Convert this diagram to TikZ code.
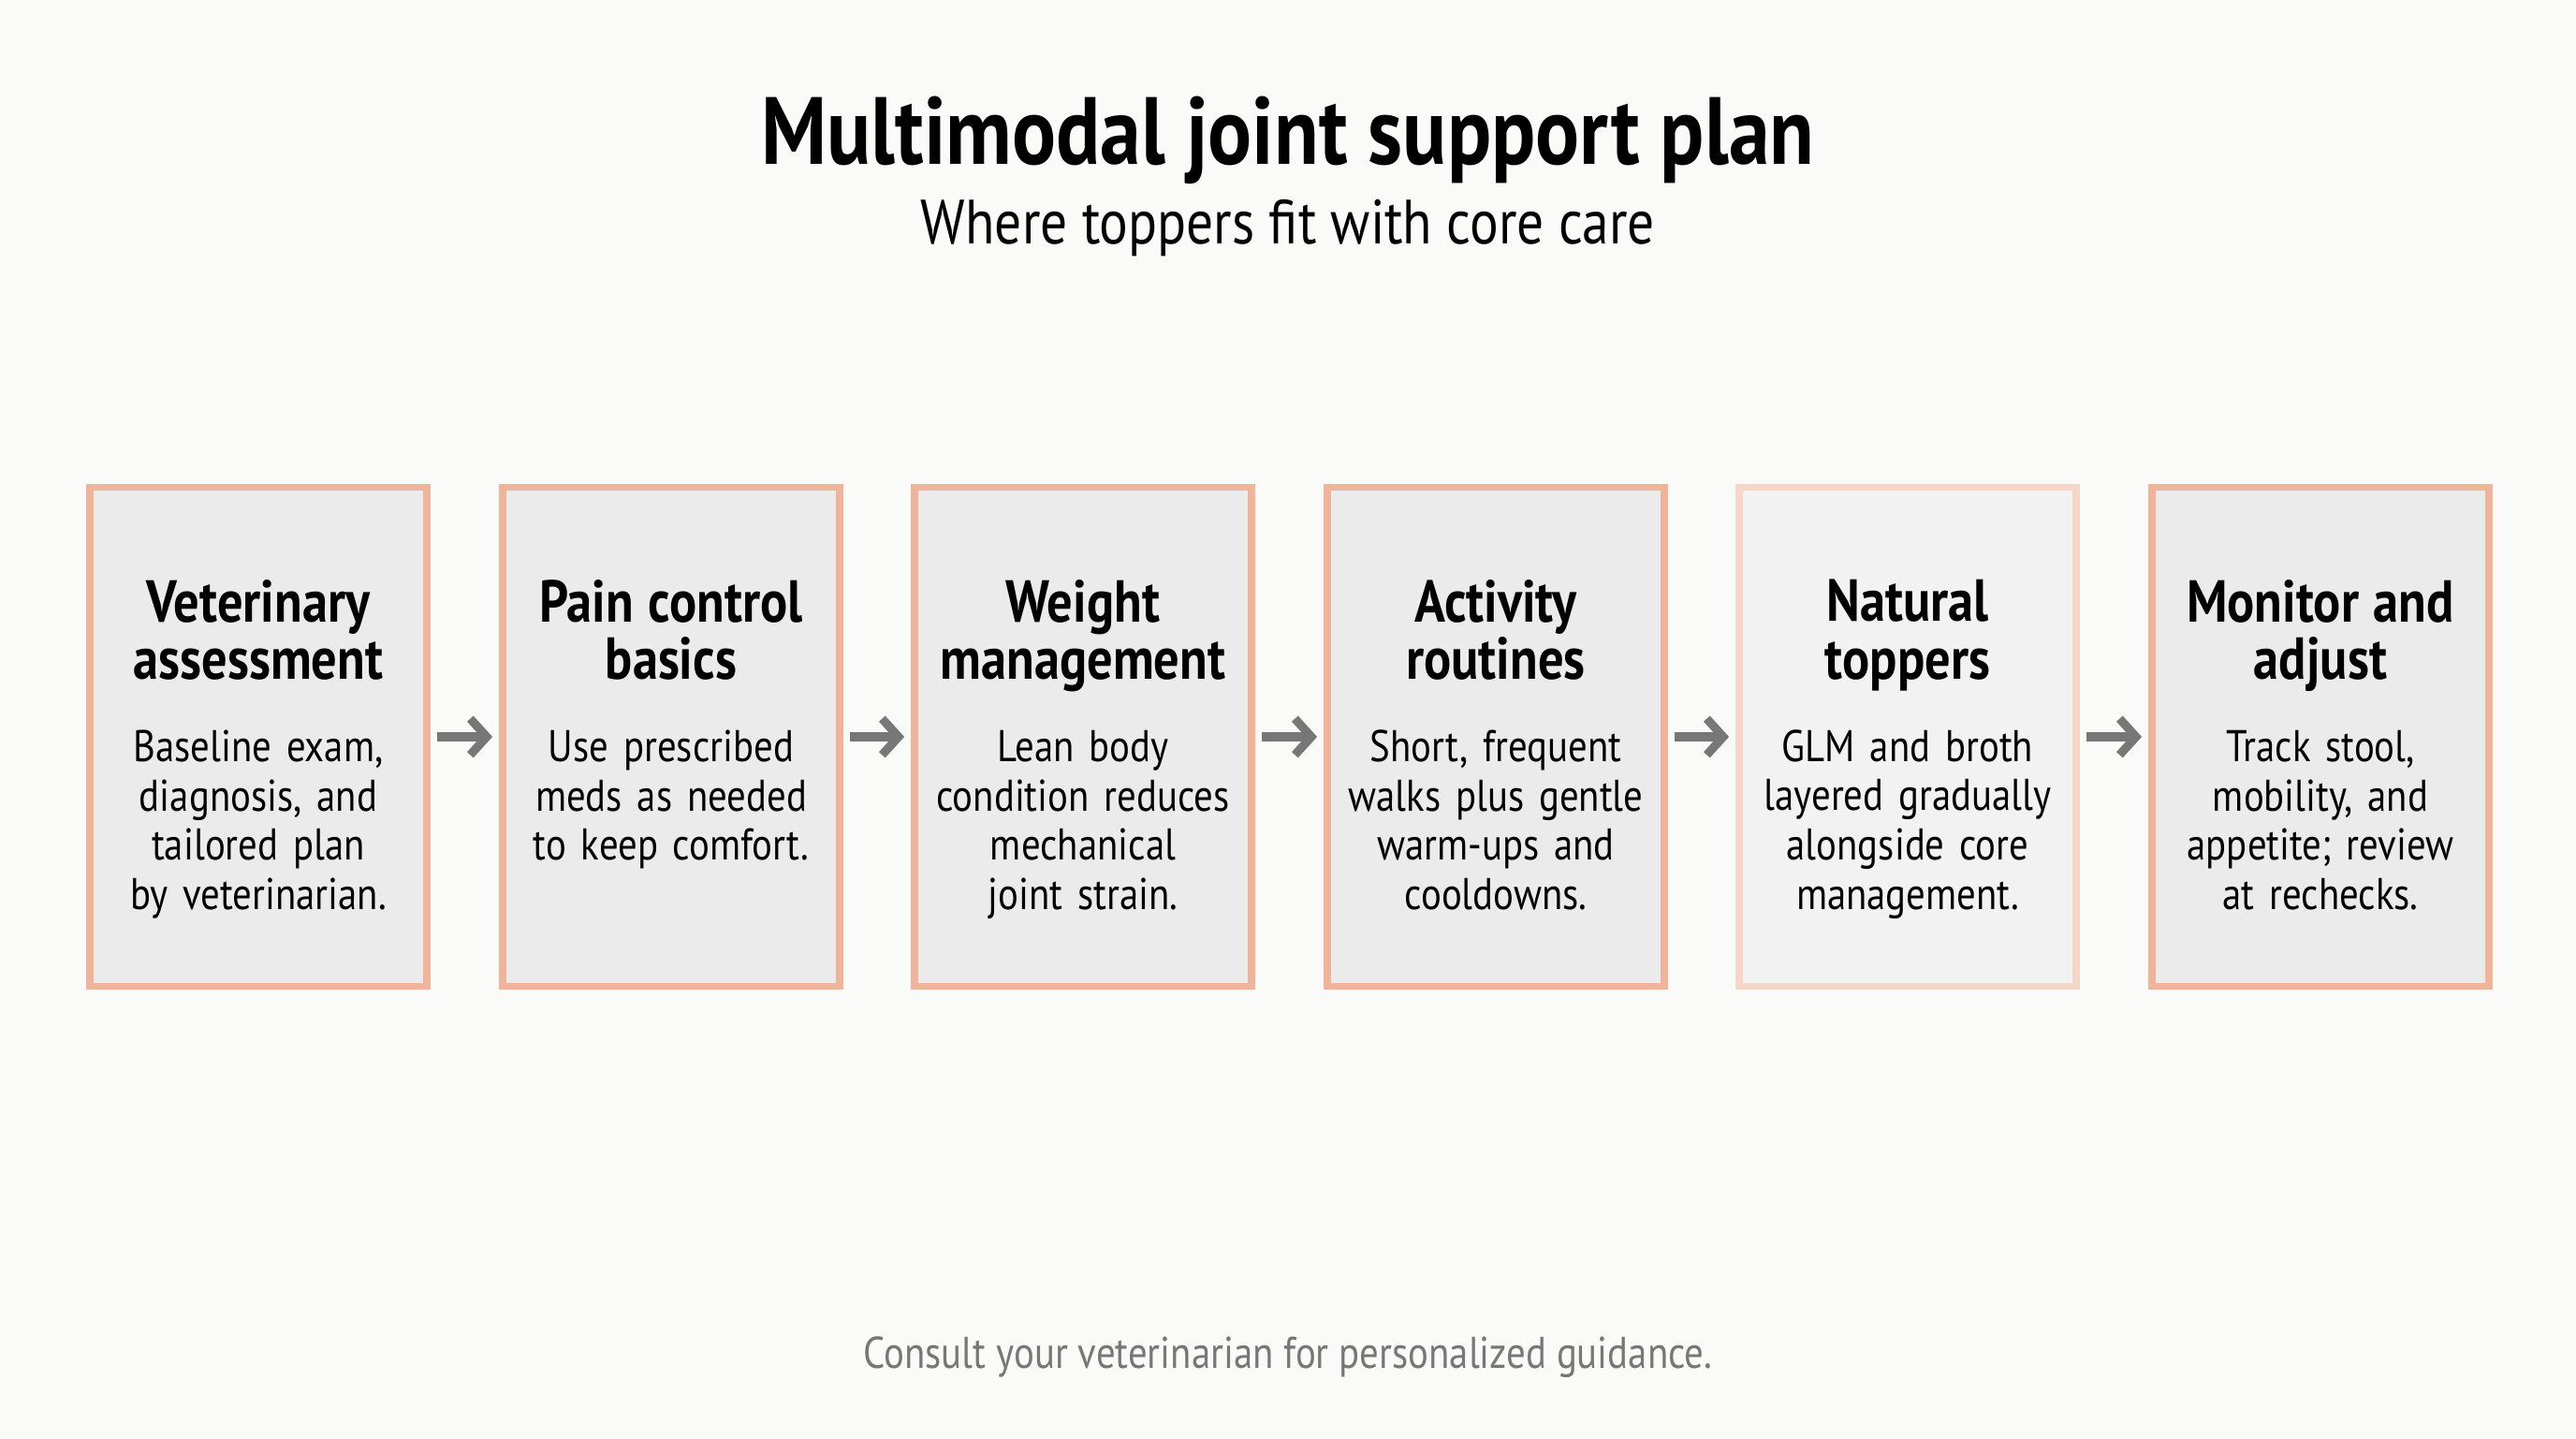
\documentclass[tikz,border=0pt]{standalone}
\usepackage{fontspec}
\setmainfont{PT Sans}[FakeStretch=0.86]
\usetikzlibrary{positioning,arrows.meta}
\definecolor{bgcol}{HTML}{FAFAF9}
\definecolor{boxfill}{HTML}{EBEBEB}
\definecolor{boxline}{HTML}{F0B49A}
\definecolor{softfill}{HTML}{F2F2F2}
\definecolor{softline}{HTML}{F6D6C6}
\definecolor{arrowcol}{HTML}{777777}
\tikzset{
  stepbox/.style={draw=boxline, fill=boxfill, line width=2.2pt, minimum width=3.6cm, minimum height=5.33cm},
  softbox/.style={stepbox, draw=softline, fill=softfill},
  steptext/.style={text width=3.45cm, align=center, anchor=north, font=\fontsize{13.5}{15}\selectfont},
  flow/.style={-{Straight Barb[length=5pt,width=11pt]}, line width=2.6pt, draw=arrowcol}
}
\newcommand{\stepnode}[5]{%
  \node[#5] (#1) at (#2, 7.49) {};
  \node[steptext] (#1t) at ([yshift=-0.9cm]#1.north) {{\bfseries\fontsize{18}{17.5}\selectfont #3\par}\vspace{10pt}#4};
}
\begin{document}
\begin{tikzpicture}
  \fill[bgcol] (0,0) rectangle (27.52,15.36);
  \useasboundingbox (0,0) rectangle (27.52,15.36);
  % Title
  \node (title) at (13.76, 13.86) {\bfseries\fontsize{29}{32}\selectfont Multimodal joint support plan};
  \node (sub) at (13.76, 12.92) {\fontsize{19}{22}\selectfont Where toppers fit with core care};
  % Steps
  \stepnode{vet}{2.76}{Veterinary\\assessment}{Baseline exam, diagnosis, and tailored plan by veterinarian.}{stepbox}
  \stepnode{pain}{7.17}{Pain control\\basics}{Use prescribed meds as needed to keep comfort.}{stepbox}
  \stepnode{weight}{11.57}{Weight\\management}{Lean body condition reduces mechanical joint strain.}{stepbox}
  \stepnode{act}{15.98}{Activity\\routines}{Short, frequent walks plus gentle warm-ups and cooldowns.}{stepbox}
  \stepnode{top}{20.38}{Natural\\toppers}{GLM and broth layered gradually alongside core management.}{softbox}
  \stepnode{mon}{24.79}{Monitor and\\adjust}{Track stool, mobility, and appetite; review at rechecks.}{stepbox}
  % Arrows
  \foreach \a/\b in {vet/pain, pain/weight, weight/act, act/top, top/mon}
    \draw[flow] ([xshift=2pt]\a.east) -- ([xshift=-2pt]\b.west);
  % Footer
  \node[text=arrowcol] (note) at (13.76, 0.86) {\fontsize{13.5}{16}\selectfont Consult your veterinarian for personalized guidance.};
\end{tikzpicture}
\end{document}
